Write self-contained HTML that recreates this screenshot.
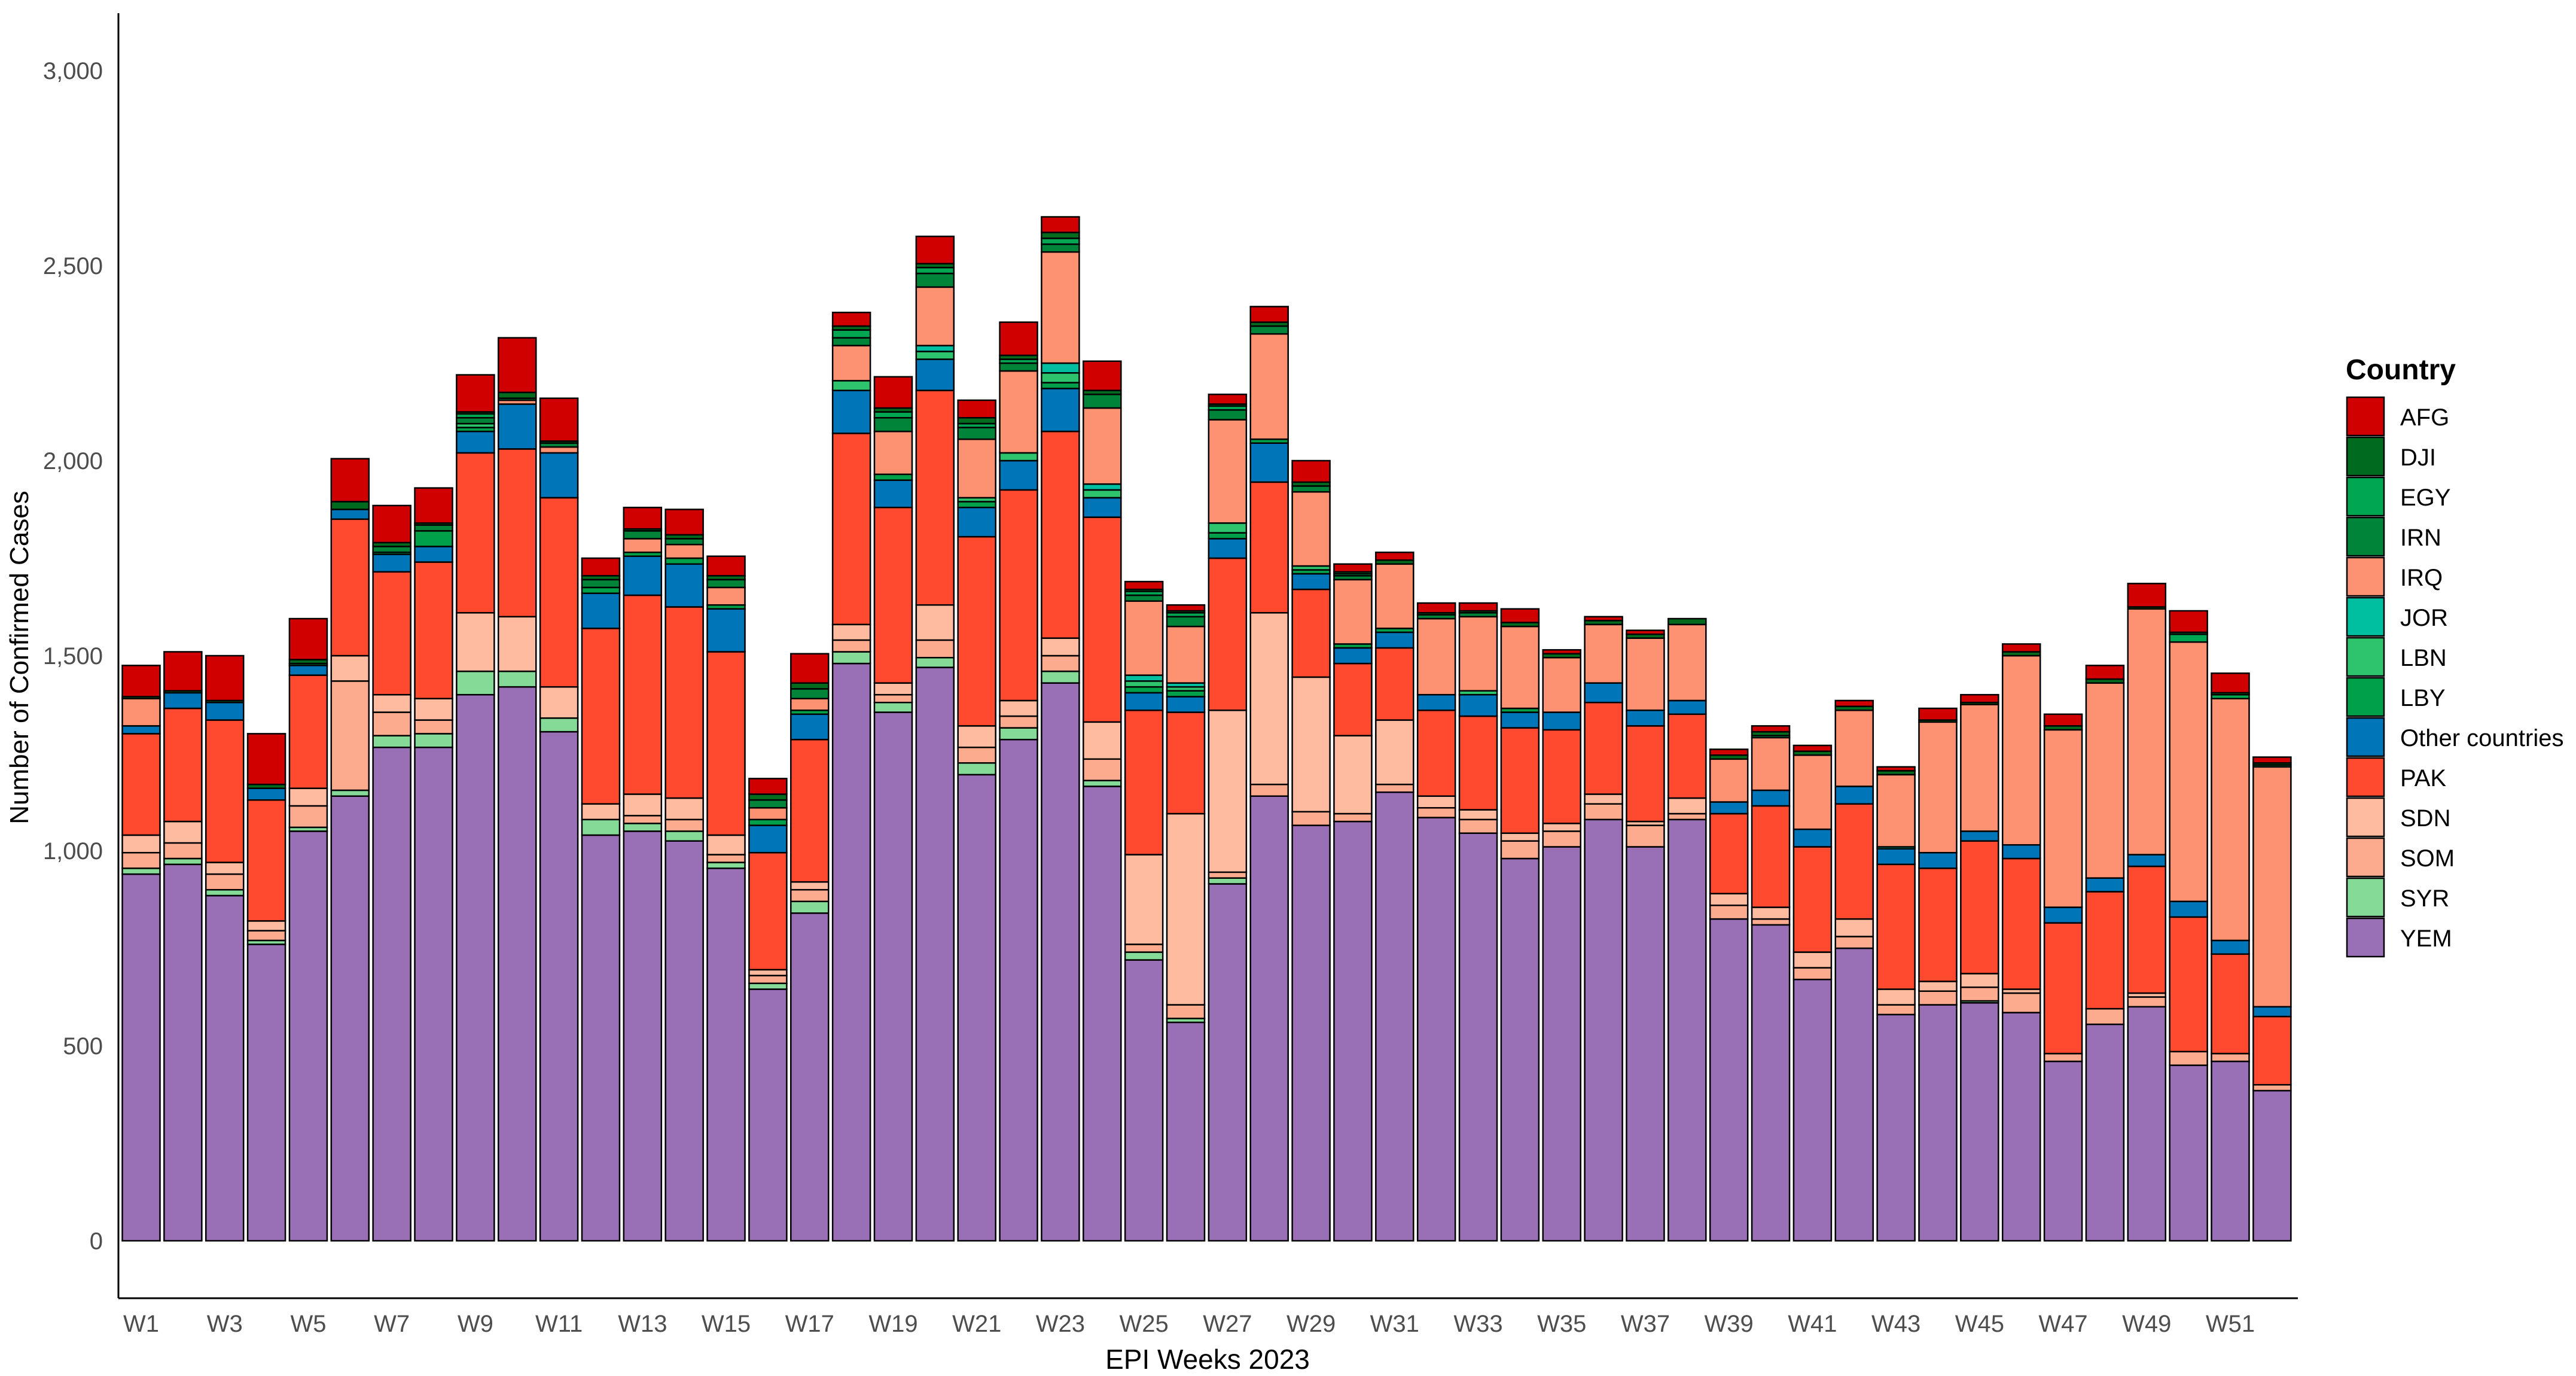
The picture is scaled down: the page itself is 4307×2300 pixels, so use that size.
<!DOCTYPE html>
<html><head><meta charset="utf-8"><style>
html,body{margin:0;padding:0;background:#fff;}
svg{display:block;font-family:"Liberation Sans",Arial,sans-serif;}
</style></head><body>
<svg id="chart" xmlns="http://www.w3.org/2000/svg" width="4307" height="2300" viewBox="0 0 4307 2300">
<rect x="0" y="0" width="4307" height="2300" fill="#fff"/>
<g id="bars"></g>
<g id="yaxis"></g>
<g id="xaxis"></g>
<line x1="198" y1="22" x2="198" y2="2170" stroke="#000" stroke-width="3"/>
<line x1="198" y1="2170" x2="3842" y2="2170" stroke="#000" stroke-width="3"/>
<text x="0" y="0" transform="translate(47,1099) rotate(-90)" text-anchor="middle" font-size="44" fill="#000">Number of Confirmed Cases</text>
<text x="2019" y="2288" text-anchor="middle" font-size="46" fill="#000">EPI Weeks 2023</text>
<g id="legend">
<text x="3922" y="634" font-size="48" font-weight="bold" fill="#000">Country</text>
</g>
</svg>
<script>
const countries = ["YEM","SYR","SOM","SDN","PAK","Other countries","LBY","LBN","JOR","IRQ","IRN","EGY","DJI","AFG"];
const colors = {"AFG":"#d10000","DJI":"#006a1f","EGY":"#00a651","IRN":"#00843a","IRQ":"#fc9272","JOR":"#00bfa0","LBN":"#2ec46e","LBY":"#00a04a","Other countries":"#0075b8","PAK":"#ff4a30","SDN":"#ffbba0","SOM":"#fcab8e","SYR":"#85da98","YEM":"#996fb5"};
const legendOrder = ["AFG","DJI","EGY","IRN","IRQ","JOR","LBN","LBY","Other countries","PAK","SDN","SOM","SYR","YEM"];
const weeks = [];
for (let i = 1; i <= 52; i++) weeks.push("W" + i);
// columns: YEM, SYR, SOM, SDN, PAK, OTH, LBY, LBN, JOR, IRQ, IRN, EGY, DJI, AFG
const YEM = [940,965,885,760,1050,1140,1265,1265,1400,1420,1305,1040,1050,1025,955,645,840,1480,1355,1470,1195,1285,1430,1165,720,560,915,1140,1065,1075,1150,1085,1045,980,1010,1080,1010,1080,825,810,670,750,580,605,610,585,460,555,600,450,460,385];
const SYR = [15,15,15,10,10,15,30,35,60,40,35,40,20,25,15,15,30,30,25,25,30,30,30,15,20,10,15,0,0,0,0,0,0,0,0,0,0,0,0,0,0,0,0,0,5,0,0,0,0,0,0,0];
const SOM = [40,40,40,25,55,280,60,35,0,0,0,0,20,30,20,20,30,30,20,45,40,30,40,55,20,35,15,30,35,20,20,25,35,45,40,40,55,15,35,15,30,30,25,35,35,50,20,40,25,35,20,15];
const SDN = [45,55,30,25,45,65,45,55,150,140,80,40,55,55,50,15,20,40,30,90,55,40,45,95,230,490,415,440,345,200,165,30,25,20,20,25,10,40,30,30,40,45,40,25,35,10,0,0,10,0,0,0];
const PAK = [260,290,365,310,290,350,315,350,410,430,485,450,510,490,470,300,365,490,450,550,485,540,530,525,370,260,390,335,225,185,185,220,240,270,240,235,245,215,205,260,270,295,320,290,340,335,335,300,325,345,255,175];
const OTH = [20,40,45,30,25,25,45,40,55,115,115,90,100,110,110,70,65,110,70,80,75,75,110,50,45,40,50,100,40,40,40,40,55,40,45,50,40,35,30,40,45,45,40,40,25,35,40,35,30,40,35,25];
const LBY = [0,0,0,0,0,0,5,40,10,0,0,15,10,15,10,15,10,0,15,0,15,0,15,0,15,15,15,10,10,10,10,0,0,10,0,0,0,0,0,0,0,0,0,0,0,0,0,0,0,0,0,0];
const LBN = [0,0,0,0,0,0,0,0,10,0,0,0,0,0,0,0,0,25,0,20,10,20,25,20,15,10,25,0,10,0,0,0,10,0,0,0,0,0,0,0,0,0,0,0,0,0,0,0,0,0,0,0];
const JOR = [0,0,0,0,0,0,0,0,0,0,0,0,0,0,0,0,0,0,0,15,0,0,25,15,15,10,0,0,0,0,0,0,0,0,0,0,0,0,0,0,0,0,5,0,0,0,0,0,0,0,0,0];
const IRQ = [70,0,0,0,0,0,0,0,0,10,15,0,35,35,45,30,30,90,110,150,150,210,285,195,190,145,265,270,190,165,165,195,190,210,140,150,185,195,110,135,190,195,185,335,325,485,455,500,630,665,620,615];
const IRN = [0,0,0,0,5,0,15,15,15,5,10,20,20,15,20,20,25,20,35,35,30,20,20,35,15,25,25,20,15,10,0,10,10,0,0,0,0,0,0,0,0,0,0,0,0,0,0,0,0,0,0,5];
const EGY = [0,0,0,0,0,0,0,0,10,0,0,0,0,0,0,0,0,20,15,15,10,10,15,0,10,10,10,0,0,5,0,0,0,0,0,0,0,0,0,5,0,0,0,0,0,0,0,0,0,20,10,0];
const DJI = [5,5,5,10,10,20,10,5,5,15,5,10,5,10,10,15,15,10,10,10,15,10,15,10,5,5,5,10,10,5,10,5,5,10,10,10,10,15,10,10,10,10,10,5,5,10,10,10,5,5,5,5];
const AFG = [80,100,115,130,105,110,95,90,95,140,110,45,55,65,50,40,75,35,80,70,45,85,40,75,20,15,25,40,55,20,20,25,20,35,10,10,10,0,15,15,15,15,10,30,20,20,30,35,60,55,50,15];
const series = [YEM,SYR,SOM,SDN,PAK,OTH,LBY,LBN,JOR,IRQ,IRN,EGY,DJI,AFG];
const yTicks = [0,500,1000,1500,2000,2500,3000];
const yTickLabels = ["0","500","1,000","1,500","2,000","2,500","3,000"];

const NS = "http://www.w3.org/2000/svg";
const Y0 = 2074, Y3000 = 118;
function yScale(v){ return Y0 - v * (Y0 - Y3000) / 3000; }
const STEP = 69.86, BW = 63;
function xCenter(i){ return 236 + i * STEP; }

const gb = document.getElementById("bars");
weeks.forEach((w, i) => {
  const g = document.createElementNS(NS, "g");
  
  
  let cum = 0;
  series.forEach((s, k) => {
    const v = s[i];
    if (!v) return;
    const r = document.createElementNS(NS, "rect");
    r.setAttribute("x", xCenter(i) - BW / 2);
    r.setAttribute("y", yScale(cum + v));
    r.setAttribute("width", BW);
    r.setAttribute("height", yScale(cum) - yScale(cum + v));
    r.setAttribute("fill", colors[countries[k]]);
    r.setAttribute("stroke", "#000");
    r.setAttribute("stroke-width", "2.5");
    
    
    g.appendChild(r);
    cum += v;
  });
  gb.appendChild(g);
});

const ya = document.getElementById("yaxis");
yTicks.forEach((t, j) => {
  const tx = document.createElementNS(NS, "text");
  tx.setAttribute("x", 172);
  tx.setAttribute("y", yScale(t) + 14);
  tx.setAttribute("text-anchor", "end");
  tx.setAttribute("font-size", "40");
  tx.setAttribute("fill", "#4d4d4d");
  tx.textContent = yTickLabels[j];
  
  
  ya.appendChild(tx);
});

const xa = document.getElementById("xaxis");
weeks.forEach((w, i) => {
  if (i % 2 !== 0) return;
  const tx = document.createElementNS(NS, "text");
  tx.setAttribute("x", xCenter(i));
  tx.setAttribute("y", 2226);
  tx.setAttribute("text-anchor", "middle");
  tx.setAttribute("font-size", "40");
  tx.setAttribute("fill", "#4d4d4d");
  tx.textContent = w;
  
  
  xa.appendChild(tx);
});

const lg = document.getElementById("legend");
legendOrder.forEach((c, j) => {
  const top = 664 + j * 67;
  const r = document.createElementNS(NS, "rect");
  r.setAttribute("x", 3924);
  r.setAttribute("y", top);
  r.setAttribute("width", 62);
  r.setAttribute("height", 64);
  r.setAttribute("fill", colors[c]);
  r.setAttribute("stroke", "#000");
  r.setAttribute("stroke-width", "2.5");
  
  
  lg.appendChild(r);
  const tx = document.createElementNS(NS, "text");
  tx.setAttribute("x", 4013);
  tx.setAttribute("y", top + 47);
  tx.setAttribute("font-size", "40");
  tx.setAttribute("fill", "#000");
  tx.textContent = c;
  
  
  lg.appendChild(tx);
});
</script>
</body></html>
